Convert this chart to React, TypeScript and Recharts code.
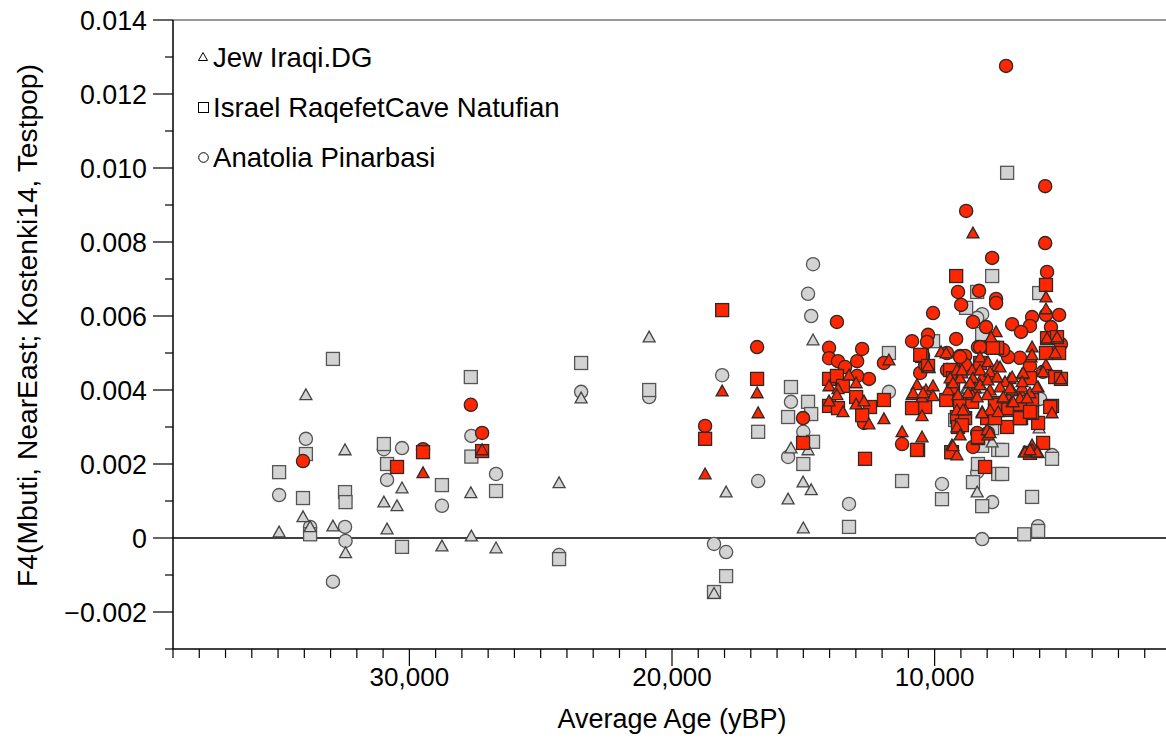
import { ScatterChart, Scatter, XAxis, YAxis, ReferenceLine, Legend } from "recharts";

// [average age (yBP), F4 value]
type Pt = [number, number];

const populations = ["Jew Iraqi.DG", "Israel RaqefetCave Natufian", "Anatolia Pinarbasi"];

const jewIraqiGray: Pt[] = [
  [34960, 0.00016], [34050, 0.00057], [33940, 0.00387], [33780, 0.0003], [32910, 0.00032],
  [32450, 0.00238], [32430, -0.0004], [30970, 0.00097], [30850, 0.00024], [30470, 0.00087],
  [30280, 0.00135], [28760, -0.00022], [27660, 0.00122], [27640, 0.00005], [26700, -0.00027],
  [24300, 0.00149], [23460, 0.00378], [20870, 0.00543], [18400, -0.0015], [17940, 0.00124],
  [15580, 0.00105], [15470, 0.00243], [15010, 0.00151], [15000, 0.00027], [14820, 0.00238],
  [14700, 0.0013], [14630, 0.00535], [8800, 0.00403], [8190, 0.00405], [8380, 0.00124],
  [7810, 0.00259], [6020, 0.00297], [8730, 0.00405]
];

const jewIraqiRed: Pt[] = [
  [29480, 0.00176], [27230, 0.00238], [18740, 0.00173], [18090, 0.00397], [16760, 0.00392],
  [16720, 0.00338], [13260, 0.0044], [12990, 0.00419], [14020, 0.00411], [13680, 0.00403],
  [13720, 0.00387], [14020, 0.0037], [13490, 0.00341], [12990, 0.00362], [12690, 0.0037],
  [12500, 0.00308], [11930, 0.00322], [11740, 0.00481], [10210, 0.0046], [9755, 0.00503],
  [9560, 0.005], [10670, 0.00414], [10330, 0.004], [10060, 0.00411], [10860, 0.00387],
  [10480, 0.00381], [10060, 0.00384], [10480, 0.0033], [11240, 0.00287], [10480, 0.00273],
  [9340, 0.00251], [9150, 0.00224], [8540, 0.00824], [7660, 0.00557], [7850, 0.00543],
  [6290, 0.00516], [5760, 0.00651], [5760, 0.00619], [5720, 0.0054], [5340, 0.00543],
  [5410, 0.005], [6330, 0.00489], [5760, 0.00468], [5870, 0.00449], [5190, 0.0043],
  [6670, 0.00443], [7130, 0.0043], [6060, 0.00408], [6750, 0.00397], [7170, 0.00378],
  [6750, 0.00378], [5530, 0.00338], [6290, 0.00251], [6590, 0.00232], [6060, 0.0023],
  [10250, 0.00465], [10820, 0.00392], [10440, 0.00392], [9150, 0.00454], [8960, 0.00446],
  [8570, 0.00454], [8270, 0.00489], [7970, 0.00476], [7620, 0.00465], [6290, 0.00495],
  [6630, 0.00446], [7050, 0.00435], [7320, 0.00422], [7810, 0.00435], [8190, 0.00435],
  [8540, 0.00432], [9030, 0.00432], [9490, 0.004], [8460, 0.00405], [7890, 0.004],
  [7510, 0.00408], [7050, 0.004], [6670, 0.00408], [6370, 0.00392], [9110, 0.00387],
  [8570, 0.00387], [8000, 0.00387], [7390, 0.00378], [7050, 0.00368], [9150, 0.00346],
  [8840, 0.00346], [8190, 0.00341], [7890, 0.00346], [7580, 0.00341], [9150, 0.003],
  [9030, 0.00278], [7970, 0.00278], [9300, 0.00249], [6560, 0.00232], [6290, 0.00238],
  [6100, 0.00232], [9410, 0.00432], [8960, 0.00454], [8270, 0.00454], [7890, 0.00449],
  [7510, 0.00462], [9300, 0.00419], [8650, 0.00419], [8270, 0.00414], [7970, 0.00427],
  [7620, 0.00435], [7130, 0.00405], [6670, 0.00422], [8730, 0.00392], [8380, 0.00381],
  [7390, 0.00381], [7010, 0.00368], [6480, 0.00378], [6100, 0.00408], [8920, 0.00346],
  [8190, 0.00338], [8000, 0.00292], [7890, 0.00284], [6370, 0.00238]
];

const natufianGray: Pt[] = [
  [34960, 0.00178], [34050, 0.00108], [33940, 0.00227], [33780, 0.0001], [32910, 0.00484],
  [32450, 0.00124], [32430, 0.00097], [30970, 0.00254], [30850, 0.002], [30280, -0.00024],
  [28760, 0.00143], [27660, 0.00435], [27640, 0.0022], [26700, 0.00127], [24300, -0.00057],
  [23460, 0.00473], [20870, 0.004], [18400, -0.00146], [17940, -0.00103], [16720, 0.00287],
  [15580, 0.00327], [15470, 0.00408], [15000, 0.002], [14820, 0.00368], [14700, 0.00335],
  [14630, 0.0026], [13260, 0.0003], [11740, 0.005], [11240, 0.00154], [10060, 0.00532],
  [9720, 0.00105], [7240, 0.00987], [7810, 0.00708], [8380, 0.00665], [8800, 0.00622],
  [8190, 0.00551], [6020, 0.00662], [9220, 0.00319], [7810, 0.00297], [8190, 0.00249],
  [7580, 0.00238], [8350, 0.002], [7580, 0.00173], [8540, 0.00151], [8190, 0.00086],
  [6290, 0.00111], [7430, 0.00238], [7430, 0.00173], [6590, 0.0001], [6060, 0.00019],
  [5530, 0.00214]
];

const natufianRed: Pt[] = [
  [29480, 0.00232], [30470, 0.00192], [27230, 0.00235], [18740, 0.00268], [18090, 0.00616],
  [16760, 0.0043], [15010, 0.00257], [12650, 0.00214], [14020, 0.0043], [13720, 0.00438],
  [13490, 0.00411], [12990, 0.00381], [14020, 0.00357], [13680, 0.00351], [12460, 0.00354],
  [11930, 0.00373], [12760, 0.00332], [10480, 0.00492], [9300, 0.00454], [10860, 0.00351],
  [10360, 0.00354], [9560, 0.00373], [10630, 0.00238], [9340, 0.00232], [9180, 0.00708],
  [10550, 0.00495], [7620, 0.00514], [5760, 0.00684], [5720, 0.0054], [5340, 0.00543],
  [5760, 0.005], [5260, 0.005], [5410, 0.00435], [5190, 0.0043], [6370, 0.00432],
  [6290, 0.00373], [5530, 0.00357], [7170, 0.00346], [6370, 0.00338], [6710, 0.00324],
  [7240, 0.003], [6060, 0.00311], [5870, 0.00257], [6370, 0.0023], [10250, 0.00465],
  [9410, 0.00454], [9300, 0.00432], [8270, 0.00473], [9300, 0.00408], [9030, 0.00368],
  [7700, 0.00365], [7200, 0.00351], [6750, 0.00351], [6290, 0.00338], [9150, 0.00327],
  [8840, 0.00324], [8000, 0.00324], [7700, 0.00324], [6750, 0.00327], [9110, 0.003],
  [8350, 0.0027], [9370, 0.00232], [8080, 0.00192], [8570, 0.00368], [7700, 0.0036],
  [6750, 0.00324], [6370, 0.00341], [8960, 0.00305], [8350, 0.00273], [10670, 0.00238],
  [5600, 0.00354], [7780, 0.00514]
];

const pinarbasiGray: Pt[] = [
  [34960, 0.00116], [33940, 0.00268], [33780, 0.0003], [32910, -0.00118], [32450, 0.0003],
  [32430, -0.00008], [30970, 0.0024], [30850, 0.00157], [30280, 0.00243], [28760, 0.00087],
  [27640, 0.00276], [26700, 0.00173], [24300, -0.00046], [23460, 0.00395], [20870, 0.00381],
  [18400, -0.00016], [18090, 0.0044], [17940, -0.00038], [16720, 0.00154], [15580, 0.00219],
  [15470, 0.00368], [15000, 0.00287], [14820, 0.0066], [14700, 0.006], [14630, 0.0074],
  [13260, 0.00092], [11740, 0.00395], [9720, 0.00146], [8190, 0.00605], [8380, 0.00595],
  [5980, 0.00376], [8380, 0.00178], [7810, 0.00097], [8190, -0.00003], [6060, 0.00032],
  [5530, 0.00224]
];

const pinarbasiRed: Pt[] = [
  [34050, 0.00208], [29480, 0.0024], [27660, 0.0036], [27230, 0.00284], [18740, 0.00303],
  [16760, 0.00516], [15010, 0.00324], [13720, 0.00584], [14020, 0.00514], [12760, 0.00511],
  [14020, 0.00486], [13680, 0.00478], [12950, 0.00478], [13410, 0.00462], [11930, 0.00473],
  [12500, 0.0043], [12950, 0.00438], [12690, 0.00311], [10060, 0.00608], [10860, 0.00532],
  [10250, 0.00549], [9180, 0.00538], [10440, 0.00492], [9530, 0.005], [11240, 0.00254],
  [8800, 0.00884], [7810, 0.00757], [9110, 0.00665], [8310, 0.00668], [7660, 0.00646],
  [7660, 0.00635], [8990, 0.0063], [8540, 0.00584], [8040, 0.0057], [7050, 0.00578],
  [6290, 0.00597], [6370, 0.00573], [6710, 0.00557], [10290, 0.0053], [7280, 0.01276],
  [5790, 0.00951], [5790, 0.00797], [5720, 0.00719], [5760, 0.00603], [5260, 0.00603],
  [5570, 0.0057], [5190, 0.00524], [6750, 0.00487], [6370, 0.00465], [5870, 0.00449],
  [9030, 0.00492], [8840, 0.00492], [10550, 0.00446], [9530, 0.00454], [8840, 0.00468],
  [8350, 0.00516], [8000, 0.00516], [7200, 0.00489], [8380, 0.00284], [7970, 0.00284],
  [8540, 0.00246], [8270, 0.00516], [7390, 0.00508], [9030, 0.00489], [10360, 0.00468]
];

const xTicks = [
  39000, 38000, 37000, 36000, 35000, 34000, 33000, 32000, 31000, 30000, 29000, 28000, 27000,
  26000, 25000, 24000, 23000, 22000, 21000, 20000, 19000, 18000, 17000, 16000, 15000, 14000,
  13000, 12000, 11000, 10000, 9000, 8000, 7000, 6000, 5000, 4000, 3000, 2000, 1000
];
const yTicks = [
  -0.003, -0.002, -0.001, 0, 0.001, 0.002, 0.003, 0.004, 0.005, 0.006, 0.007, 0.008, 0.009,
  0.01, 0.011, 0.012, 0.013, 0.014
];

const RED = "#ff2600";
const GRAY = "#d3d3d3";
const FONT = "'Liberation Sans', Arial, Helvetica, sans-serif";

const rows = (pts: Pt[]) => pts.map(([age, f4]) => ({ age, f4 }));

const circle = (fill: string, stroke: string) => (p: any) =>
  <circle cx={p.cx} cy={p.cy} r={6.6} fill={fill} stroke={stroke} strokeWidth={1.3} />;
const square = (fill: string, stroke: string) => (p: any) =>
  <rect x={p.cx - 6.5} y={p.cy - 6.5} width={13} height={13} fill={fill} stroke={stroke} strokeWidth={1.3} />;
const triangle = (fill: string, stroke: string) => (p: any) =>
  <polygon
    points={`${p.cx},${p.cy - 6} ${p.cx - 6},${p.cy + 4.8} ${p.cx + 6},${p.cy + 4.8}`}
    fill={fill}
    stroke={stroke}
    strokeWidth={1.3}
  />;

function XTick({ x, y, payload }: any) {
  const v = payload.value as number;
  const major = v % 10000 === 0;
  return (
    <g>
      <line x1={x} x2={x} y1={y} y2={y + (major ? 17 : 9)} stroke="#000" strokeWidth={1.2} />
      {major && (
        <text x={x} y={y + 37} textAnchor="middle" fontSize={26} fontFamily={FONT} fill="#000">
          {v.toLocaleString("en-US")}
        </text>
      )}
    </g>
  );
}

function YTick({ x, y, payload }: any) {
  const v = payload.value as number;
  const major = Math.round(v * 1000) % 2 === 0;
  const label = v === 0 ? "0" : (v < 0 ? "\u2212" : "") + Math.abs(v).toFixed(3);
  return (
    <g>
      <line x1={x - (major ? 20 : 8)} x2={x} y1={y} y2={y} stroke="#000" strokeWidth={1.2} />
      {major && v > -0.003 && (
        <text x={x - 26} y={y} dy="0.36em" textAnchor="end" fontSize={26.8} fontFamily={FONT} fill="#000">
          {label}
        </text>
      )}
    </g>
  );
}

function LegendBox() {
  const icons = [
    <polygon points="5,0.5 0.5,8.5 9.5,8.5" fill="#fff" stroke="#000" strokeWidth={1} />,
    <rect x={0.5} y={0.5} width={10} height={10} fill="#fff" stroke="#000" strokeWidth={1} />,
    <circle cx={5.5} cy={5.5} r={4.8} fill="#fff" stroke="#000" strokeWidth={1} />
  ];
  return (
    <div style={{ fontFamily: FONT, fontSize: 27.6, color: "#000" }}>
      {populations.map((name, i) => (
        <div key={name} style={{ display: "flex", alignItems: "center", height: 50 }}>
          <svg width={12} height={12} style={{ marginRight: 3 }}>{icons[i]}</svg>
          <span>{name}</span>
        </div>
      ))}
    </div>
  );
}

export default function App() {
  return (
    <div style={{ position: "fixed", left: 0, top: 0, width: 1166, height: 744, overflow: "hidden", background: "#fff" }}>
      <ScatterChart width={1180} height={744} margin={{ top: 20, right: 9, bottom: 0, left: 0 }}>
        <XAxis
          type="number"
          dataKey="age"
          domain={[1000, 39000]}
          reversed
          ticks={xTicks}
          interval={0}
          tickSize={0}
          tickMargin={0}
          tickLine={false}
          tick={<XTick />}
          height={95}
          axisLine={{ stroke: "#000", strokeWidth: 1.5 }}
          label={{ value: "Average Age (yBP)", position: "insideBottom", offset: 16, fontSize: 27, fontFamily: FONT, fill: "#000" }}
        />
        <YAxis
          type="number"
          dataKey="f4"
          domain={[-0.003, 0.014]}
          ticks={yTicks}
          interval={0}
          tickSize={0}
          tickMargin={0}
          tickLine={false}
          tick={<YTick />}
          width={173}
          axisLine={{ stroke: "#000", strokeWidth: 1.5 }}
          label={(props: any) => {
            const vb = props.viewBox || { x: 0, y: 20, width: 173, height: 629 };
            const cx = vb.x + 27;
            const cy = vb.y + vb.height / 2 - 9;
            return (
              <text x={cx} y={cy} transform={`rotate(-90 ${cx} ${cy})`} textAnchor="middle" dominantBaseline="central" fontSize={28.2} fontFamily={FONT} fill="#000">
                F4(Mbuti, NearEast; Kostenki14, Testpop)
              </text>
            );
          }}
        />
        <ReferenceLine y={0.014} stroke="#777" strokeWidth={1.5} />
        <ReferenceLine y={0} stroke="#000" strokeWidth={1.5} />
        <Legend
          layout="vertical"
          align="center"
          verticalAlign="middle"
          content={() => <LegendBox />}
          wrapperStyle={{ left: 198, top: 33, width: 440 }}
        />
        <Scatter name="pinarbasi-gray" data={rows(pinarbasiGray)} shape={circle(GRAY, "#555")} isAnimationActive={false} />
        <Scatter name="natufian-gray" data={rows(natufianGray)} shape={square(GRAY, "#555")} isAnimationActive={false} />
        <Scatter name="jew-gray" data={rows(jewIraqiGray)} shape={triangle(GRAY, "#444")} isAnimationActive={false} />
        <Scatter name="pinarbasi-red" data={rows(pinarbasiRed)} shape={circle(RED, "#2a2a2a")} isAnimationActive={false} />
        <Scatter name="natufian-red" data={rows(natufianRed)} shape={square(RED, "#2a2a2a")} isAnimationActive={false} />
        <Scatter name="jew-red" data={rows(jewIraqiRed)} shape={triangle(RED, "#2a2a2a")} isAnimationActive={false} />
      </ScatterChart>
    </div>
  );
}
